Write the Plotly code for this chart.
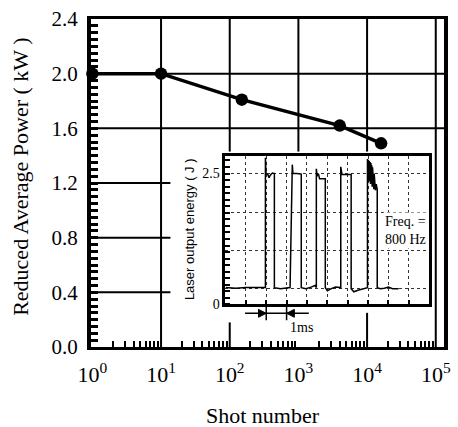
import plotly.graph_objects as go

# ---- main chart data ----
shots = [1, 10, 150, 4000, 16000]
power_kw = [2.0, 2.0, 1.81, 1.62, 1.49]

x_tickvals = [1, 10, 100, 1000, 10000, 100000]
x_ticktext = ["10<sup>0</sup>", "10<sup>1</sup>", "10<sup>2</sup>",
              "10<sup>3</sup>", "10<sup>4</sup>", "10<sup>5</sup>"]
y_tickvals = [0.0, 0.4, 0.8, 1.2, 1.6, 2.0, 2.4]

# ---- inset oscilloscope trace (time in ms, energy in J) ----
t_ms = [0.0, 0.5, 1.0, 1.5, 1.96,
        1.96, 1.99, 2.08, 2.14, 2.20, 2.30, 2.40,
        2.40, 2.70, 2.90, 3.17,
        3.28, 3.31, 3.50, 3.72,
        3.72, 3.95, 4.20, 4.40, 4.46,
        4.46, 4.50, 4.56, 4.62, 4.75, 4.90,
        4.90, 5.00, 5.20, 5.40, 5.66,
        5.66, 5.72, 5.95, 6.17,
        6.17, 6.30, 6.50, 6.75, 6.97,
        6.97, 7.00, 7.02, 7.04, 7.06, 7.08, 7.10, 7.12, 7.14, 7.16, 7.18,
        7.20, 7.22, 7.24, 7.26, 7.28, 7.30, 7.32, 7.34, 7.36, 7.40, 7.45,
        7.45, 7.60, 7.80, 8.00, 8.20, 8.50]
energy_j = [0.32, 0.31, 0.32, 0.32, 0.32,
            2.80, 2.50, 2.48, 2.42, 2.47, 2.51, 2.50,
            0.32, 0.30, 0.31, 0.32,
            2.67, 2.50, 2.50, 2.49,
            0.32, 0.30, 0.33, 0.36, 0.32,
            2.59, 2.45, 2.50, 2.40, 2.40, 2.40,
            0.32, 0.26, 0.30, 0.33, 0.32,
            2.63, 2.48, 2.48, 2.48,
            0.30, 0.24, 0.27, 0.30, 0.32,
            2.78, 2.40, 2.76, 2.35, 2.74, 2.45, 2.72, 2.30, 2.70, 2.40, 2.66,
            2.25, 2.62, 2.35, 2.55, 2.20, 2.50, 2.30, 2.40, 2.18, 2.30, 2.20,
            0.32, 0.30, 0.31, 0.33, 0.30, 0.30]

inset_y_gridvals = [0.0, 0.30, 1.02, 1.76, 2.5]
inset_y_ticktext = ["0", "", "", "", "2.5"]

minor_x = [m * 10 ** d for d in range(5) for m in range(2, 10)]

SERIF = "Liberation Serif"
SANS = "Liberation Sans"

fig = go.Figure()
fig.add_trace(go.Scatter(
    x=shots, y=power_kw, mode="lines+markers",
    line=dict(color="black", width=3.5),
    marker=dict(color="black", size=12.5),
    xaxis="x", yaxis="y", cliponaxis=False, hoverinfo="skip"))
fig.add_trace(go.Scatter(
    x=t_ms, y=energy_j, mode="lines",
    line=dict(color="black", width=1.5),
    xaxis="x2", yaxis="y2", hoverinfo="skip"))

shapes = []
G = dict(color="black", width=2)
# main horizontal gridlines
for yv in (2.0, 1.6):
    shapes.append(dict(type="line", xref="paper", yref="y", x0=0, x1=1, y0=yv, y1=yv, line=G, layer="below"))
for yv in (1.2, 0.8, 0.4):
    shapes.append(dict(type="line", xref="paper", yref="y", x0=0, x1=0.225, y0=yv, y1=yv, line=G, layer="below"))
# main vertical gridlines (interrupted by the inset)
vsegs = [(10, 0, 2.4), (100, 1.43, 2.4), (100, 0, 0.18), (1000, 1.43, 2.4),
         (10000, 1.43, 2.4), (10000, 0, 0.25), (100000, 0, 2.4)]
for xv, y0, y1 in vsegs:
    shapes.append(dict(type="line", xref="x", yref="y", x0=xv, x1=xv, y0=y0, y1=y1, line=G, layer="below"))

# 1 ms marker below inset
A = dict(color="black", width=1.5)
ya = 0.1027
shapes.append(dict(type="line", xref="x2", yref="paper", x0=0.96, x1=4.09, y0=ya, y1=ya, line=A))
for xv in (2, 3):
    shapes.append(dict(type="line", xref="x2", yref="paper", x0=xv, x1=xv, y0=0.0816, y1=0.127, line=A))
shapes.append(dict(type="path", xref="x2", yref="paper",
                   path=f"M 1.62,{ya-0.012} L 2,{ya} L 1.62,{ya+0.012} Z",
                   fillcolor="black", line=dict(color="black", width=1)))
shapes.append(dict(type="path", xref="x2", yref="paper",
                   path=f"M 3.38,{ya-0.012} L 3,{ya} L 3.38,{ya+0.012} Z",
                   fillcolor="black", line=dict(color="black", width=1)))

annotations = [
    dict(text="Shot number", xref="paper", yref="paper", x=0.486, y=-0.21,
         xanchor="center", yanchor="middle", showarrow=False, font=dict(family=SERIF, size=22)),
    dict(text="Reduced Average Power ( kW )", xref="paper", yref="paper", x=-0.2, y=0.52,
         xanchor="center", yanchor="middle", textangle=-90, showarrow=False,
         font=dict(family=SERIF, size=22)),
    dict(text="Laser output energy ( J )", xref="paper", yref="paper", x=0.281, y=0.36,
         xanchor="center", yanchor="middle", textangle=-90, showarrow=False,
         font=dict(family=SANS, size=13)),
    dict(text="Freq. =<br>800 Hz", xref="x2", yref="y2", x=7.75, y=1.42,
         xanchor="left", yanchor="middle", align="left", showarrow=False,
         bgcolor="white", borderpad=1, font=dict(family=SERIF, size=14)),
    dict(text="1ms", xref="x2", yref="paper", x=3.75, y=0.06,
         xanchor="center", yanchor="middle", showarrow=False, font=dict(family=SERIF, size=14)),
]

fig.update_layout(
    width=458, height=427,
    margin=dict(l=91, r=7, t=16, b=80),
    paper_bgcolor="white", plot_bgcolor="white",
    showlegend=False,
    font=dict(family=SERIF, color="black"),
    xaxis=dict(type="log", range=[-0.02, 5.12], tickmode="array",
               tickvals=x_tickvals, ticktext=x_ticktext, ticks="",
               ticklabelstandoff=6,
               showgrid=False, zeroline=False, showline=True, linecolor="black",
               linewidth=3, mirror=True, tickfont=dict(family=SERIF, size=22),
               minor=dict(tickmode="array", tickvals=minor_x, ticks="inside",
                          ticklen=6, tickwidth=2, tickcolor="black", showgrid=False)),
    yaxis=dict(range=[0, 2.4], tickmode="array", tickvals=y_tickvals, tickformat=".1f",
               ticks="inside", ticklen=7, tickwidth=2.5, tickcolor="black",
               ticklabelstandoff=5,
               showgrid=False, zeroline=False, showline=True, linecolor="black",
               linewidth=4, mirror=True, tickfont=dict(family=SERIF, size=21),
               minor=dict(dtick=0.05, tick0=0, ticks="inside", ticklen=7,
                          tickwidth=2.5, tickcolor="black", showgrid=False)),
    xaxis2=dict(domain=[0.381, 0.958], anchor="y2", range=[0, 10], tick0=0, dtick=1,
                showticklabels=False, ticks="inside", ticklen=4, tickwidth=1.5,
                tickcolor="black", showgrid=True, gridcolor="#333", griddash="dot",
                gridwidth=1, zeroline=False, showline=True, linecolor="black",
                linewidth=3, mirror=True),
    yaxis2=dict(domain=[0.130, 0.583], anchor="x2", range=[0, 2.84], tickmode="array",
                tickvals=inset_y_gridvals, ticktext=inset_y_ticktext, ticks="",
                showgrid=True, gridcolor="#333", griddash="dot", gridwidth=1,
                zeroline=False, showline=True, linecolor="black", linewidth=3, mirror=True,
                tickfont=dict(family=SERIF, size=14),
                minor=dict(dtick=0.125, tick0=0, ticks="inside", ticklen=5,
                           tickwidth=2, tickcolor="black", showgrid=False)),
    shapes=shapes,
    annotations=annotations,
)

fig.write_html("out.html")
